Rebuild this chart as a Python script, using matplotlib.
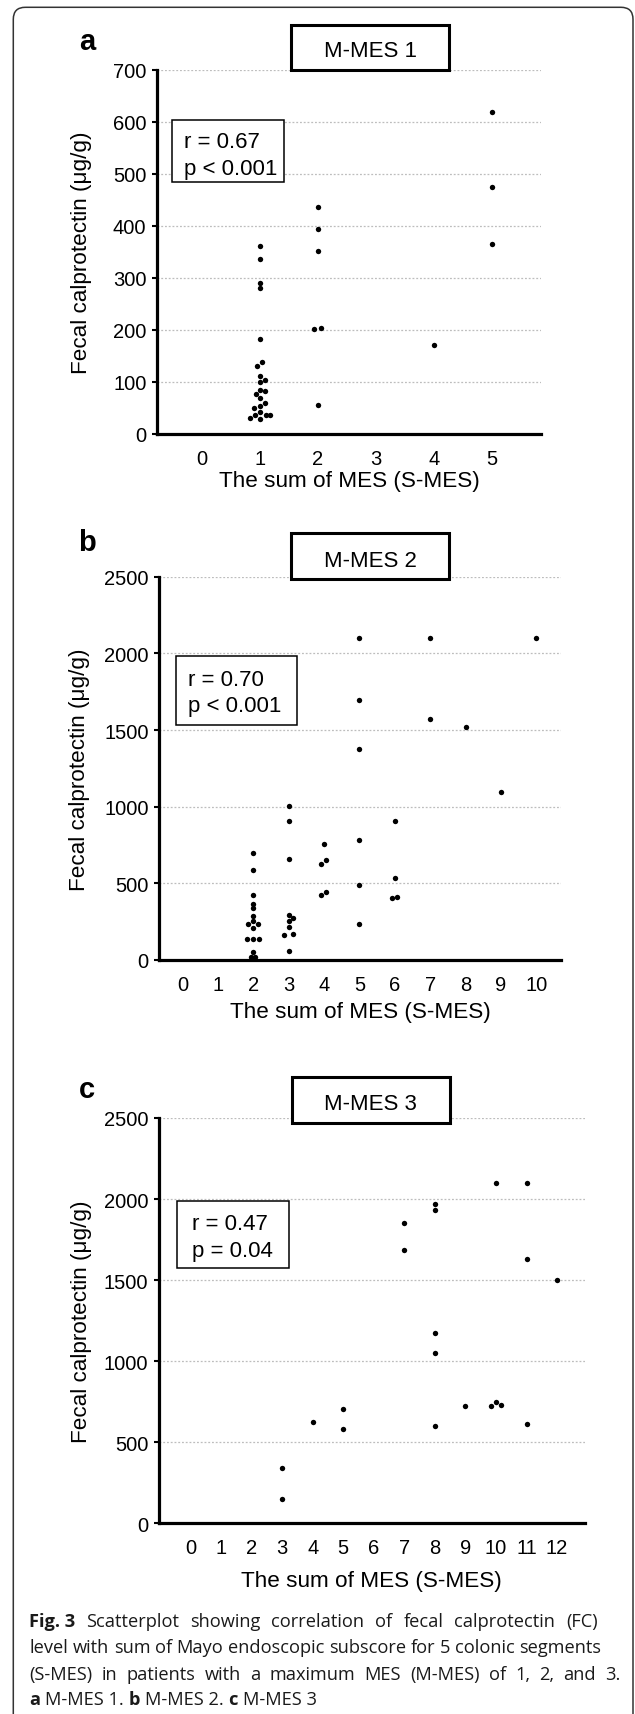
import matplotlib
matplotlib.use('Agg')
import matplotlib.pyplot as plt
from matplotlib.patches import Rectangle, FancyBboxPatch

plt.rcParams['font.family'] = ['Liberation Sans', 'DejaVu Sans']

# ---------------- data ----------------
a_x = [1, 1, 1, 1, 1,
       1.04, 0.96, 1.0, 1.09, 1.0, 1.0, 1.09, 0.93, 1.0, 1.09, 1.0, 0.91, 1.0, 0.92, 1.10, 1.18, 0.84, 1.0,
       2, 2, 2, 1.93, 2.05, 2,
       4,
       5, 5, 5]
a_y = [362, 337, 290, 280, 183,
       138, 131, 111, 104, 100, 85, 82, 76, 70, 60, 53, 49, 42, 37, 36, 36, 31, 29,
       437, 393, 351, 202, 204, 56,
       171,
       618, 475, 366]

b_x = [2, 2, 2, 2, 2, 2, 2, 1.86, 2.14, 2, 1.83, 2, 2.16, 2, 1.94, 2.06,
       3, 3, 3, 3, 3.13, 3, 3, 2.86, 3.13, 3,
       4, 3.92, 4.06, 3.92, 4.06,
       5, 5, 5, 5, 5, 5,
       6, 6, 5.92, 6.06,
       7, 7,
       8,
       9,
       10]
b_y = [698, 587, 424, 368, 340, 290, 255, 235, 235, 210, 137, 137, 137, 54, 20, 20,
       1002, 904, 657, 293, 276, 257, 217, 165, 170, 61,
       757, 628, 652, 424, 441,
       2100, 1693, 1376, 785, 489, 237,
       904, 537, 407, 413,
       2100, 1574,
       1522,
       1093,
       2100]

c_x = [3, 3,
       4,
       5, 5,
       7, 7,
       8, 8, 8, 8, 8,
       9,
       9.85, 10, 10.18, 10,
       11, 11, 11,
       12]
c_y = [340, 150,
       627,
       707, 580,
       1850, 1688,
       1968, 1931, 1174, 1053, 601,
       724,
       722, 747, 732, 2100,
       2100, 1632, 611,
       1501]

titles = ['M-MES 1', 'M-MES 2', 'M-MES 3']
stats_r = ['r = 0.67', 'r = 0.70', 'r = 0.47']
stats_p = ['p < 0.001', 'p < 0.001', 'p = 0.04']
letters = ['a', 'b', 'c']
xmax_tick = [5, 10, 12]
y_ticks = [[0, 100, 200, 300, 400, 500, 600, 700],
           [0, 500, 1000, 1500, 2000, 2500],
           [0, 500, 1000, 1500, 2000, 2500]]
xlabel = 'The sum of MES (S-MES)'
ylabel = 'Fecal calprotectin (\u03bcg/g)'

caption_lines = [
    [('Fig. 3', True), ('Scatterplot', False), ('showing', False), ('correlation', False), ('of', False),
     ('fecal', False), ('calprotectin', False), ('(FC)', False)],
    [('level', False), ('with', False), ('sum', False), ('of', False), ('Mayo', False), ('endoscopic', False),
     ('subscore', False), ('for', False), ('5', False), ('colonic', False), ('segments', False)],
    [('(S-MES)', False), ('in', False), ('patients', False), ('with', False), ('a', False), ('maximum', False),
     ('MES', False), ('(M-MES)', False), ('of', False), ('1,', False), ('2,', False), ('and', False), ('3.', False)],
    [('a', True), ('M-MES 1.', False), ('b', True), ('M-MES 2.', False), ('c', True), ('M-MES 3', False)],
]

# ---------------- layout (pixels, origin top-left) ----------------
W, H = 635, 1715
fig = plt.figure(figsize=(W / 100, H / 100), dpi=100)

panels = [
    dict(data=(a_x, a_y), box=(157, 70.7, 541, 435), xlim=(-0.771, 5.85), ylim=(0, 700),
         ylab_x=82, xlab_y=482, letter=(87, 50.5),
         tbox=(290.7, 26, 449.3, 70.7), tbase=57.3,
         sbox=(172, 121, 284, 183), stx=184, sbase=(147.7, 175)),
    dict(data=(b_x, b_y), box=(159.3, 577.7, 560.7, 961), xlim=(-0.66, 10.69), ylim=(0, 2500),
         ylab_x=79, xlab_y=1013, letter=(87, 550.7),
         tbox=(290.7, 534.3, 449.3, 580), tbase=566.7,
         sbox=(176, 657.3, 296.7, 725.7), stx=188.3, sbase=(685.7, 712.3)),
    dict(data=(c_x, c_y), box=(158.7, 1119, 584.9, 1524.4), xlim=(-1.04, 12.91), ylim=(0, 2500),
         ylab_x=82, xlab_y=1581.7, letter=(87, 1098.3),
         tbox=(291.7, 1078.3, 450, 1124), tbase=1110,
         sbox=(177.3, 1201.7, 289.3, 1269), stx=192.3, sbase=(1230, 1257.3)),
]

for i, p in enumerate(panels):
    x0, y0, x1, y1 = p['box']
    ax = fig.add_axes([x0 / W, 1 - y1 / H, (x1 - x0) / W, (y1 - y0) / H])
    xs, ys = p['data']
    ax.scatter(xs, ys, s=15, c='black', linewidths=0, zorder=3, clip_on=False)
    ax.set_xlim(*p['xlim'])
    ax.set_ylim(*p['ylim'])
    ax.set_xticks(range(xmax_tick[i] + 1))
    ax.set_yticks(y_ticks[i])
    ax.grid(axis='y', linestyle=(0, (1.5, 1.5)), color='#bdbdbd', lw=0.9)
    ax.set_axisbelow(True)
    for s in ('top', 'right'):
        ax.spines[s].set_visible(False)
    for s in ('left', 'bottom'):
        ax.spines[s].set_linewidth(2.3)
        ax.spines[s].set_color('black')
    ax.tick_params(axis='x', length=0, pad=10.5, labelsize=14.5)
    ax.tick_params(axis='y', length=3.6, width=1.5, pad=4, labelsize=14.5, direction='out')
    ax.set_xlabel(xlabel, fontsize=16.2)
    ax.xaxis.label.set_va('center')
    ax.xaxis.set_label_coords(0.5, (y1 - p['xlab_y']) / (y1 - y0))
    ax.set_ylabel(ylabel, fontsize=16.2)
    ax.yaxis.label.set_va('center')
    ax.yaxis.label.set_ha('center')
    ax.yaxis.set_label_coords((p['ylab_x'] - x0) / (x1 - x0), 0.5)

# overlay in pixel coordinates
ov = fig.add_axes([0, 0, 1, 1], zorder=10)
ov.set_xlim(0, W)
ov.set_ylim(H, 0)
ov.axis('off')

ov.add_patch(FancyBboxPatch((13.3, 8.3), 633 - 13.3, 1760, boxstyle='round,pad=0,rounding_size=12',
                            fill=False, ec='#333333', lw=1.1))

for i, p in enumerate(panels):
    tx0, ty0, tx1, ty1 = p['tbox']
    ov.add_patch(Rectangle((tx0, ty0), tx1 - tx0, ty1 - ty0, fc='white', ec='black', lw=2.2))
    ov.text((tx0 + tx1) / 2, p['tbase'], titles[i], ha='center', va='baseline', fontsize=16)
    sx0, sy0, sx1, sy1 = p['sbox']
    ov.add_patch(Rectangle((sx0, sy0), sx1 - sx0, sy1 - sy0, fc='white', ec='black', lw=1.1))
    ov.text(p['stx'], p['sbase'][0], stats_r[i], ha='left', va='baseline', fontsize=16)
    ov.text(p['stx'], p['sbase'][1], stats_p[i], ha='left', va='baseline', fontsize=16)
    ov.text(p['letter'][0], p['letter'][1], letters[i], ha='center', va='baseline',
            fontsize=21, fontweight='bold')

# caption with justification
renderer = fig.canvas.get_renderer()
cap_family = ['Open Sans', 'DejaVu Sans']
cap_color = '#1a1a1a'
cap_left = 29.3
cap_base = [1626.7, 1653.3, 1679.8, 1705.5]
cap_right = [597.5, 601.5, 620.7, None]


def measure(txt, bold, size):
    t = ov.text(0, 0, txt, fontsize=size, family=cap_family, fontweight='bold' if bold else 'normal')
    w = t.get_window_extent(renderer).width
    t.remove()
    return w


# fit font size so that line 2 (natural spacing) spans its measured width
base_size = 13.0
l2 = ' '.join(w for w, _ in caption_lines[1])
nat = measure(l2, False, base_size)
cap_size = base_size * (cap_right[1] - cap_left) / nat

space_w = measure('a a', False, cap_size) - measure('aa', False, cap_size)

for li, line in enumerate(caption_lines):
    widths = [measure(w, b, cap_size) for w, b in line]
    n = len(line)
    if cap_right[li] is not None and n > 1:
        gap = ((cap_right[li] - cap_left) - sum(widths)) / (n - 1)
    else:
        gap = space_w
    x = cap_left
    for (w, b), wd in zip(line, widths):
        ov.text(x, cap_base[li], w, ha='left', va='baseline', fontsize=cap_size, family=cap_family,
                fontweight='bold' if b else 'normal', color=cap_color)
        x += wd + gap

fig.savefig('out.png', dpi=100)
